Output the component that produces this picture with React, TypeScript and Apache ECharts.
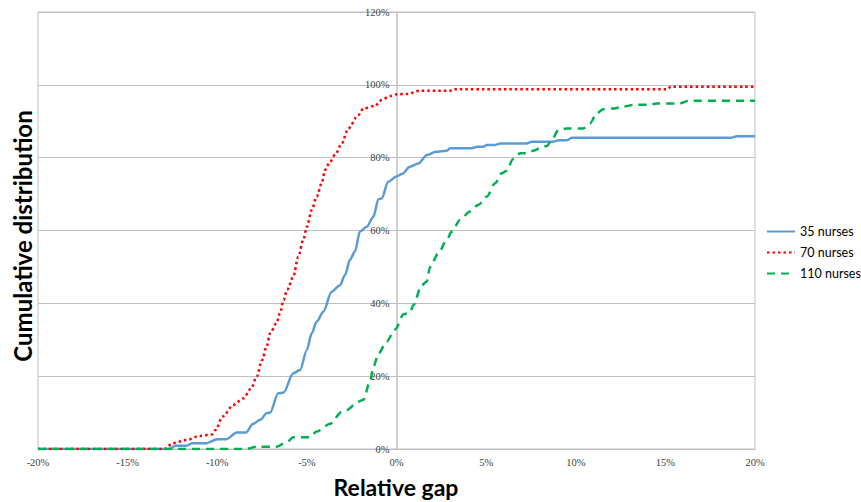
import React, { useEffect, useRef } from "react";
import * as echarts from "echarts";

const seriesNames = ["35 nurses", "70 nurses", "110 nurses"];
const xTicks = { min: -20, max: 20, interval: 5 };
const yTicks = { min: 0, max: 120, interval: 20 };

// [relative gap %, cumulative %]
const nurses35: [number, number][] = [
  [-20, 0], [-12.7, 0], [-12.3, 0.9], [-11.7, 0.9], [-11.4, 1.6], [-10.6, 1.6], [-10.0, 2.7], [-9.5, 2.7],
  [-8.9, 4.5], [-8.4, 4.5], [-8.0, 6.9], [-7.6, 8.0], [-7.25, 9.8], [-7.05, 10.0], [-6.6, 15.3], [-6.3, 15.5],
  [-5.76, 20.8], [-5.38, 21.7], [-5.0, 27.2], [-4.73, 31.8], [-4.45, 35], [-4.08, 37.7], [-3.62, 43.2],
  [-3.15, 45], [-2.87, 47.8], [-2.6, 51.9], [-2.32, 54.2], [-2.04, 59.7], [-1.66, 61], [-1.29, 63.8],
  [-1.01, 68.6], [-0.83, 68.8], [-0.46, 73.4], [0, 74.8], [0.3, 75.5], [0.75, 77.5], [1.22, 78.4],
  [1.7, 80.7], [2.2, 81.6], [2.8, 81.9], [3.0, 82.6], [4.2, 82.6], [4.5, 83], [4.85, 83], [5.05, 83.5],
  [5.5, 83.5], [5.8, 83.9], [7.25, 83.9], [7.55, 84.4], [8.75, 84.4], [9.05, 84.8], [9.5, 84.8],
  [9.8, 85.5], [18.7, 85.5], [19.0, 85.9], [20, 85.9],
];

const nurses70: [number, number][] = [
  [-20, 0], [-12.9, 0], [-12.8, 0.6], [-12.5, 1.6], [-11.7, 2.5], [-11.0, 3.6], [-10.3, 4.0], [-10.1, 5.2],
  [-9.7, 8.9], [-9.1, 12.1], [-8.55, 13.9], [-8.1, 16.7], [-7.8, 19.9], [-7.5, 24.4], [-7.25, 28.1],
  [-7.05, 31.8], [-6.7, 34.5], [-6.5, 37.3], [-6.3, 40.9], [-6.1, 43.7], [-5.76, 47.3], [-5.48, 52.8],
  [-5.2, 57.4], [-5.0, 61], [-4.73, 65.6], [-4.45, 69.3], [-4.17, 73], [-3.99, 76.6], [-3.71, 78.9],
  [-3.4, 81], [-3.06, 83.9], [-2.69, 88], [-2.13, 91.7], [-1.85, 93.5], [-1.2, 94.2], [-0.85, 95.8],
  [-0.36, 96.9], [0, 97.4], [0.6, 97.5], [1.3, 98.4], [3.0, 98.4], [3.2, 98.8], [15.1, 98.8],
  [15.3, 99.5], [20, 99.5],
];

const nurses110: [number, number][] = [
  [-20, 0], [-8.4, 0], [-7.8, 0.6], [-6.7, 0.6], [-6.1, 2.0], [-5.76, 3.2], [-4.85, 3.2], [-4.45, 4.8],
  [-3.7, 6.9], [-3.06, 10.2], [-2.78, 10.7], [-2.13, 13], [-1.85, 13.5], [-1.48, 18.5], [-1.29, 22.6],
  [-1.0, 26.3], [-0.55, 29.5], [-0.08, 32.8], [0.4, 37.0], [0.75, 37.5], [0.94, 39.5], [1.4, 45],
  [1.68, 45.9], [1.87, 50], [2.33, 53.7], [2.8, 57.4], [3.08, 59.7], [3.54, 62.9], [4.1, 65.2],
  [4.56, 67], [5.03, 69.3], [5.5, 73], [5.87, 75.7], [6.15, 76.4], [6.5, 79.6], [6.9, 81.2],
  [7.26, 81.2], [7.63, 81.9], [8.1, 82.8], [8.38, 83.2], [8.66, 84.8], [9.03, 87.6], [9.5, 88],
  [10.42, 88], [10.8, 89.4], [11.17, 92.2], [11.54, 93.3], [12.1, 93.5], [12.47, 93.8], [13.2, 94.5],
  [14.14, 94.5], [14.5, 94.9], [15.8, 94.9], [16.28, 95.6], [20, 95.6],
];

const xTitle = "Relative gap";
const yTitle = "Cumulative distribution";

const GRID_LEFT = 38;
const GRID_RIGHT = 106;
const WIDTH = 861;

export default function App() {
  const ref = useRef<HTMLDivElement>(null);
  useEffect(() => {
    if (!ref.current) return;
    const chart = echarts.init(ref.current, undefined, { renderer: "svg" });
    const labelStyle = { fontFamily: "'Liberation Serif', 'Times New Roman', serif", fontSize: 10.5, color: "#404040" };
    const lineBase = { type: "line" as const, symbol: "none", showSymbol: false, smooth: 0.3, smoothMonotone: "x" as const };
    // y axis sits at x = 0 of the value axis (middle of the plot)
    const plotWidth = WIDTH - GRID_LEFT - GRID_RIGHT;
    const zeroOffset = (plotWidth * (0 - xTicks.min)) / (xTicks.max - xTicks.min);
    chart.setOption({
      animation: false,
      backgroundColor: "#fff",
      grid: { left: GRID_LEFT, right: GRID_RIGHT, top: 12, bottom: 53, show: true, borderColor: "#c0c0c0", borderWidth: 1 },
      legend: {
        data: seriesNames,
        orient: "vertical",
        left: 761,
        top: 220,
        padding: 5,
        itemWidth: 28,
        itemHeight: 14,
        itemGap: 8,
        itemStyle: { opacity: 0 },
        textStyle: { fontFamily: "Lato", fontSize: 12.5, color: "#000" },
      },
      xAxis: {
        type: "value",
        min: xTicks.min,
        max: xTicks.max,
        interval: xTicks.interval,
        axisLine: { show: true, lineStyle: { color: "#bfbfbf", width: 1 } },
        axisTick: { show: false },
        splitLine: { show: false },
        axisLabel: { ...labelStyle, margin: 8, formatter: (v: number) => `${v}%` },
      },
      yAxis: {
        type: "value",
        position: "left",
        offset: -zeroOffset,
        min: yTicks.min,
        max: yTicks.max,
        interval: yTicks.interval,
        axisLine: { show: true, onZero: false, lineStyle: { color: "#c0c0c0", width: 1.5 } },
        axisTick: { show: false },
        splitLine: { show: true, lineStyle: { color: "#c0c0c0", width: 1 } },
        axisLabel: { ...labelStyle, margin: 7, formatter: (v: number) => `${v}%` },
      },
      graphic: [
        {
          type: "text",
          x: 396,
          y: 487,
          style: {
            text: xTitle,
            font: "bold 23px Lato",
            fill: "#000",
            align: "center",
            verticalAlign: "middle",
          },
        },
        {
          type: "text",
          x: 22,
          y: 236,
          rotation: Math.PI / 2,
          style: {
            text: yTitle,
            font: "bold 24px Lato",
            fill: "#000",
            align: "center",
            verticalAlign: "middle",
          },
        },
      ],
      series: [
        {
          ...lineBase,
          name: seriesNames[0],
          data: nurses35,
          lineStyle: { color: "#5B9BD5", width: 2.5, type: "solid" },
          itemStyle: { color: "#5B9BD5" },
        },
        {
          ...lineBase,
          name: seriesNames[1],
          data: nurses70,
          lineStyle: { color: "#FF0000", width: 2.5, type: [2.5, 3], cap: "butt" },
          itemStyle: { color: "#FF0000" },
        },
        {
          ...lineBase,
          name: seriesNames[2],
          data: nurses110,
          lineStyle: { color: "#00B050", width: 2.5, type: [8, 6] },
          itemStyle: { color: "#00B050" },
        },
      ],
    });
    return () => chart.dispose();
  }, []);
  return <div ref={ref} style={{ position: "fixed", left: 0, top: 0, width: 861, height: 502 }} />;
}
